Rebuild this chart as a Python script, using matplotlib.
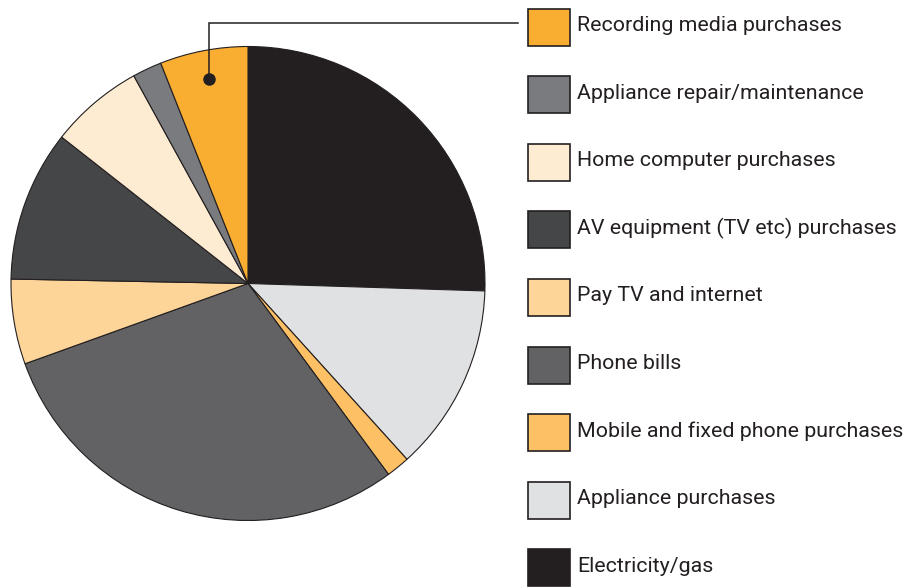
import matplotlib
matplotlib.use("Agg")
import matplotlib.pyplot as plt
from matplotlib.patches import Rectangle

# Share of household spending, going clockwise from 12 o'clock
categories = [
    "Electricity/gas",
    "Appliance purchases",
    "Mobile and fixed phone purchases",
    "Phone bills",
    "Pay TV and internet",
    "AV equipment (TV etc) purchases",
    "Home computer purchases",
    "Appliance repair/maintenance",
    "Recording media purchases",
]
shares = [25.5, 12.8, 1.6, 29.6, 5.8, 10.3, 6.4, 2.0, 6.0]
colours = [
    "#231f20", "#e0e1e3", "#fdc064", "#626264", "#fed598",
    "#454648", "#fdebd2", "#7a7b7e", "#f9ae32",
]

INK = "#231f20"
W, H = 919, 588

fig = plt.figure(figsize=(W / 100, H / 100), dpi=100)
ax = fig.add_axes([0, 0, 1, 1])

def py(y):
    # pixel rows run downwards, axis runs upwards
    return H - y

ax.pie(shares, colors=colours, startangle=90, counterclock=False,
       center=(248, py(283.5)), radius=237,
       wedgeprops=dict(edgecolor=INK, linewidth=0.8))

# callout from the recording media slice to its legend entry
ax.plot([209, 209, 518], [py(79), py(23), py(23)], color=INK, lw=1.1,
        solid_joinstyle="miter")
ax.plot([209], [py(79)], "o", color=INK, ms=8)

# legend, listed top to bottom in reverse pie order
row0, step = 27, 67.6
for i, (name, col) in enumerate(zip(categories[::-1], colours[::-1])):
    yc = row0 + i * step
    ax.add_patch(Rectangle((528, py(yc + 18.5)), 42, 37, facecolor=col,
                           edgecolor=INK, linewidth=1.2))
    ax.text(577, py(yc - 1.5), name, fontsize=15.4, family="Roboto",
            color=INK, va="center", ha="left")

ax.set_xlim(0, W)
ax.set_ylim(0, H)
ax.set_aspect("auto")
ax.axis("off")

fig.savefig("out.png", dpi=100)
